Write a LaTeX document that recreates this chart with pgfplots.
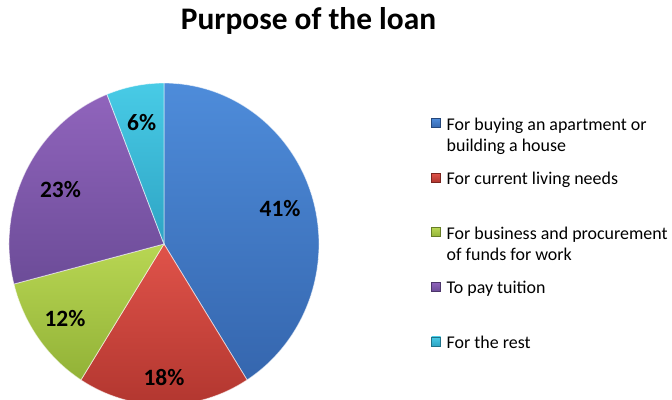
\documentclass[border=0pt]{standalone}
\usepackage{pgfplots}
\pgfplotsset{compat=1.18}
\usepackage{pgfplotstable}
\usepackage{fontspec}
\setmainfont{Carlito}

% top / bottom colours of the shaded wedges
\definecolor{c0top}{HTML}{4E8CDA}\definecolor{c0bot}{HTML}{3566AE}
\definecolor{c1top}{HTML}{E0534A}\definecolor{c1bot}{HTML}{B0352E}
\definecolor{c2top}{HTML}{B8D653}\definecolor{c2bot}{HTML}{92B237}
\definecolor{c3top}{HTML}{9064BC}\definecolor{c3bot}{HTML}{6C4C98}
\definecolor{c4top}{HTML}{48CBE6}\definecolor{c4bot}{HTML}{2EA4C4}

% share in percent, label distance (fraction of radius), legend text
\pgfplotstableread[col sep=comma]{
share,labr,name
41,0.78,{For buying an apartment or\\building a house}
18,0.83,{For current living needs}
12,0.79,{For business and procurement\\of funds for work}
23,0.75,{To pay tuition}
6,0.77,{For the rest}
}\loandata

\begin{document}
\begin{tikzpicture}
\begin{axis}[
scale only axis,
width=672bp, height=400bp,
xmin=0, xmax=672, ymin=0, ymax=400,
hide axis, clip=true,
]
\node[anchor=base, font=\bfseries\fontsize{31.5}{35}\selectfont] at (axis cs:308.5,370.5) {Purpose of the loan};

\def\angstart{90}
\pgfplotsforeachungrouped \i in {0,...,4}{
  \pgfplotstablegetelem{\i}{share}\of\loandata \let\s\pgfplotsretval
  \pgfplotstablegetelem{\i}{labr}\of\loandata \let\lr\pgfplotsretval
  \pgfplotstablegetelem{\i}{name}\of\loandata \let\nm\pgfplotsretval
  \pgfmathsetmacro\angend{\angstart-3.6*\s}
  \pgfmathsetmacro\angmid{(\angstart+\angend)/2}
  \pgfmathsetmacro\lx{164+155*\lr*cos(\angmid)}
  \pgfmathsetmacro\lyy{156+161*\lr*sin(\angmid)}
  \pgfmathsetmacro\ly{400-130-54.6*\i}
  \edef\temp{%
    \noexpand\path[top color=c\i top, bottom color=c\i bot, draw=white, draw opacity=0.6, line width=0.8bp]
      (axis cs:164,156) -- ++(\angstart:155bp and 161bp) arc[start angle=\angstart, end angle=\angend, x radius=155bp, y radius=161bp] -- cycle;
    \noexpand\node[font=\noexpand\bfseries\noexpand\fontsize{23.5}{26}\noexpand\selectfont] at (axis cs:\lx,\lyy) {\s\noexpand\%};
    \noexpand\path[top color=c\i top, bottom color=c\i bot, draw=c\i bot!70!black, line width=0.4bp]
      (axis cs:431.5,\ly+2.5) rectangle (axis cs:440.5,\ly+11.5);
    \noexpand\node[anchor=north west, inner sep=0pt, align=left, font=\noexpand\fontsize{18}{21.5}\noexpand\selectfont] at (axis cs:446.5,\ly+15.05) {\noexpand\strut\unexpanded\expandafter{\nm}};
  }%
  \temp
  \let\angstart\angend
}
\end{axis}
\pgfresetboundingbox
\useasboundingbox (current axis.south west) rectangle (current axis.north east);
\end{tikzpicture}
\end{document}
